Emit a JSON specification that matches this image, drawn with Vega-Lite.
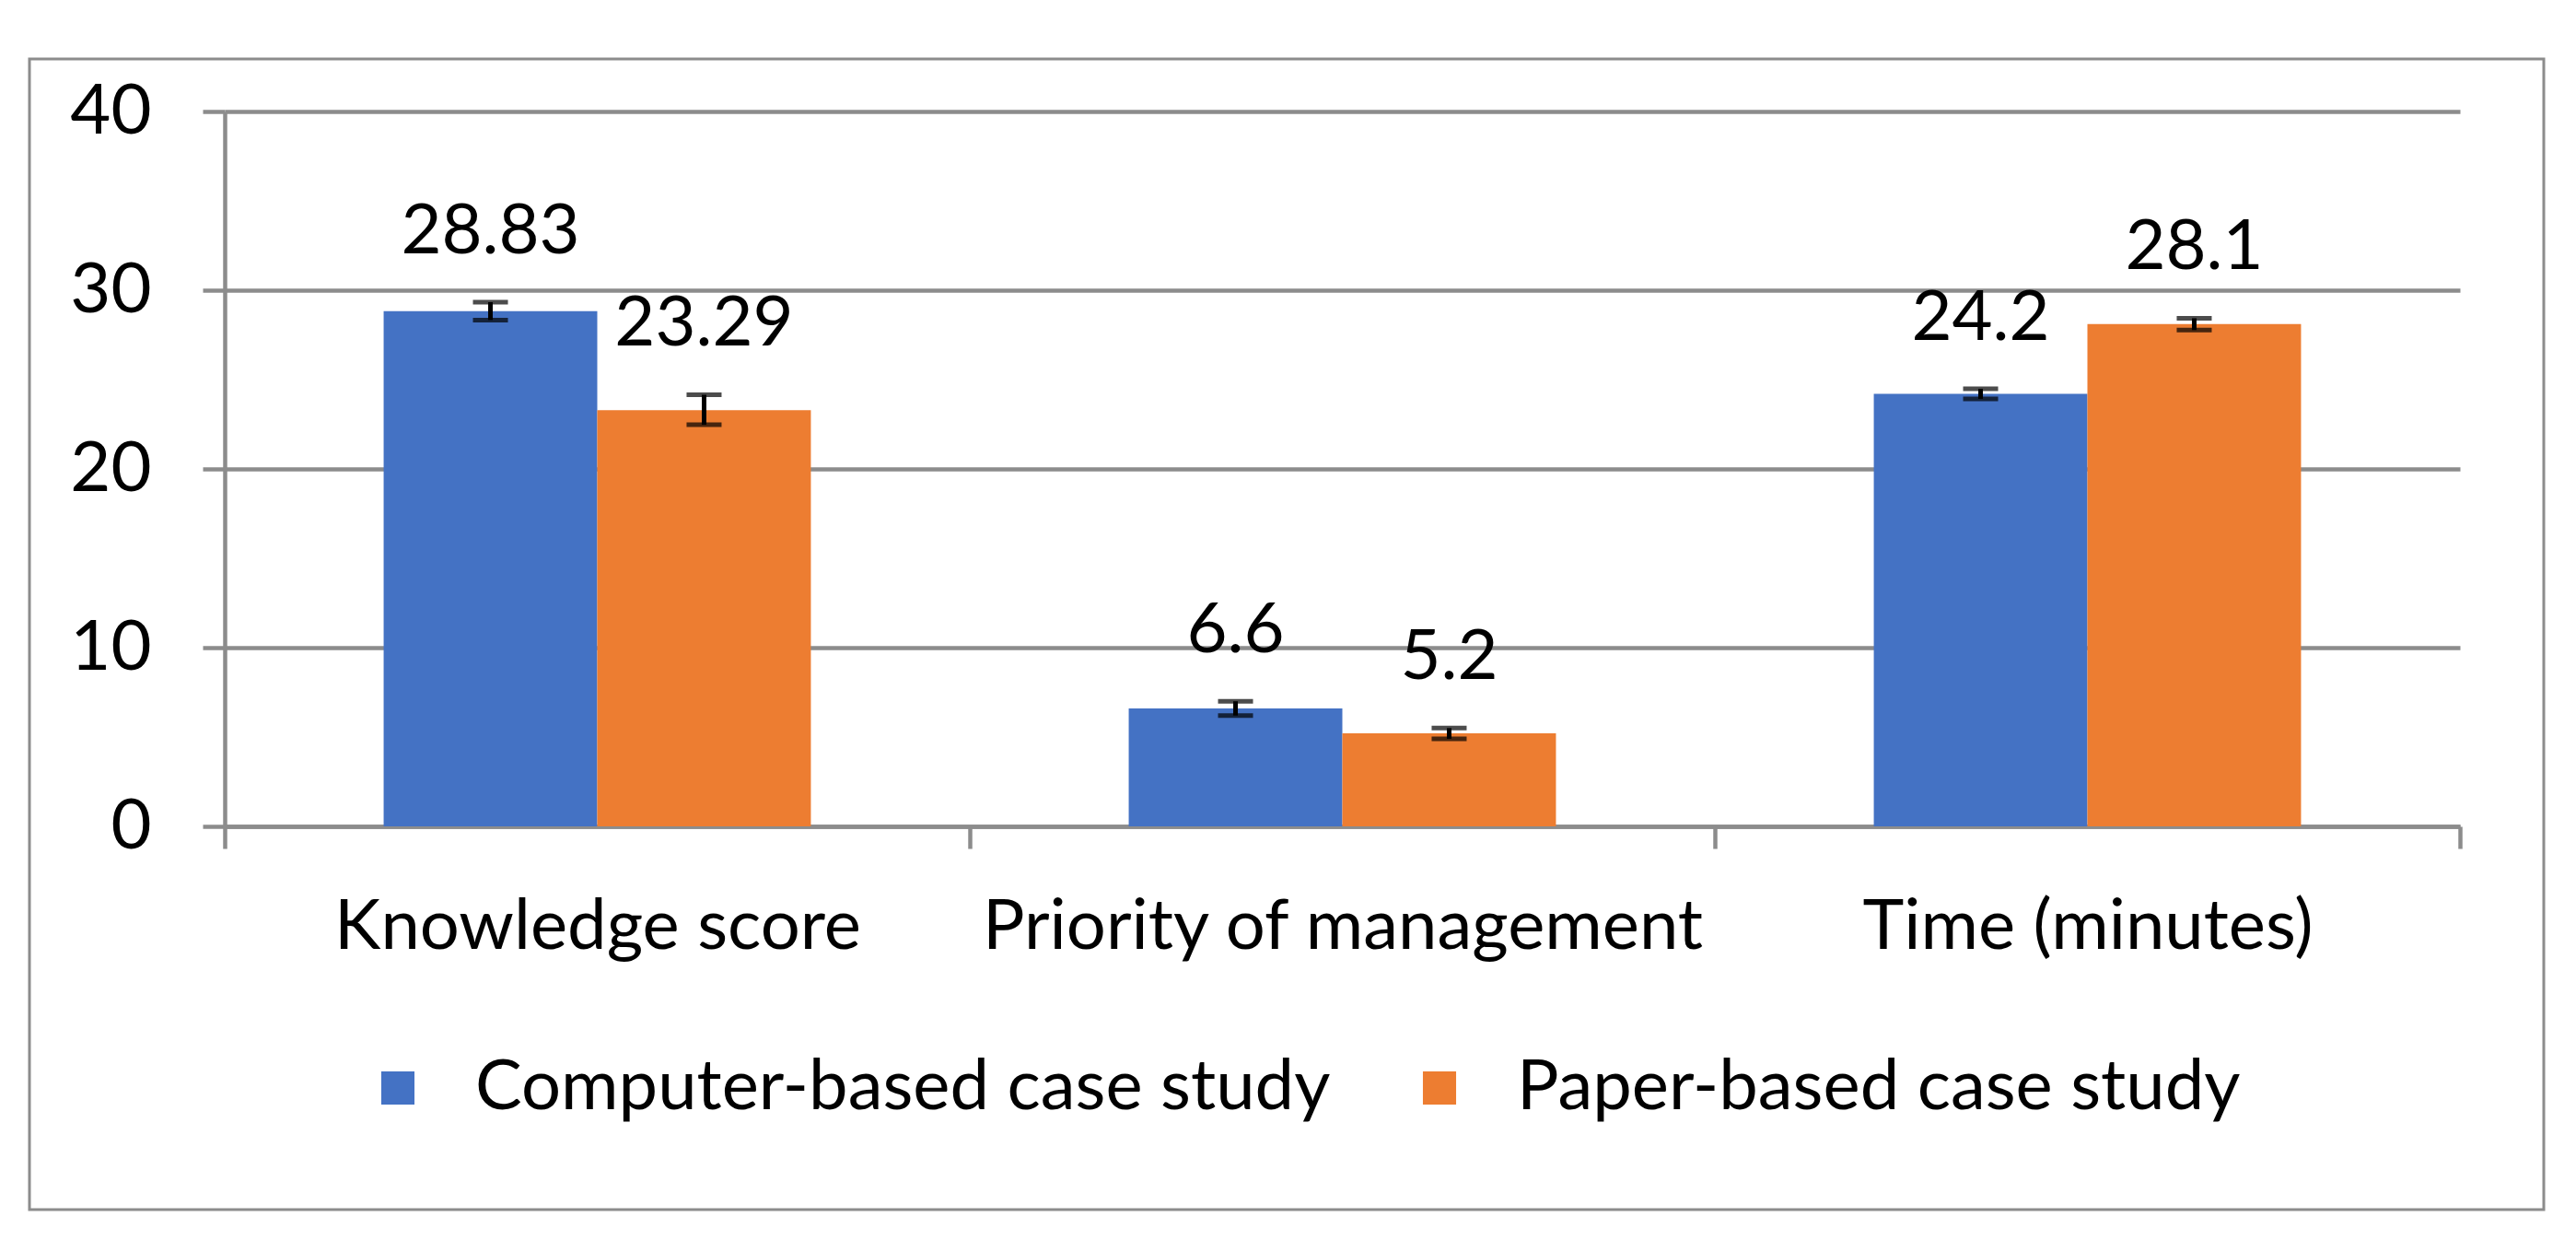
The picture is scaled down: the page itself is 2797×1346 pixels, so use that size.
{
  "$schema": "https://vega.github.io/schema/vega-lite/v6.json",
  "width": 2427,
  "height": 776,
  "autosize": {"type": "none"},
  "padding": {"left": 244, "top": 121, "right": 126, "bottom": 449},
  "background": "white",
  "config": {
    "font": "Lato",
    "view": {"stroke": null},
    "axis": {"labelFont": "Lato", "labelColor": "black", "labelFontSize": 76, "titleFontSize": 76, "labelLimit": 0}
  },
  "data": {
    "values": [
      {"measure": "Knowledge score", "group": "Computer-based case study", "value": 28.83, "lo": 28.33, "hi": 29.33},
      {"measure": "Knowledge score", "group": "Paper-based case study", "value": 23.29, "lo": 22.47, "hi": 24.15},
      {"measure": "Priority of management", "group": "Computer-based case study", "value": 6.6, "lo": 6.2, "hi": 7.0},
      {"measure": "Priority of management", "group": "Paper-based case study", "value": 5.2, "lo": 4.9, "hi": 5.5},
      {"measure": "Time (minutes)", "group": "Computer-based case study", "value": 24.2, "lo": 23.92, "hi": 24.48},
      {"measure": "Time (minutes)", "group": "Paper-based case study", "value": 28.1, "lo": 27.77, "hi": 28.43}
    ]
  },
  "encoding": {
    "x": {
      "field": "measure",
      "type": "nominal",
      "sort": ["Knowledge score", "Priority of management", "Time (minutes)"],
      "scale": {"paddingInner": 0, "paddingOuter": 0},
      "axis": {
        "title": null,
        "labelAngle": 0,
        "labelLimit": 0,
        "tickBand": "extent",
        "domainColor": "#8c8c8c",
        "domainWidth": 4.5,
        "tickColor": "#8c8c8c",
        "tickWidth": 4.5,
        "tickSize": 24,
        "labelPadding": 48,
        "labelFontSize": 76,
        "labelColor": "black",
        "grid": false
      }
    },
    "xOffset": {
      "field": "group",
      "type": "nominal",
      "sort": ["Computer-based case study", "Paper-based case study"],
      "scale": {"paddingInner": 0, "paddingOuter": 0.744}
    }
  },
  "layer": [
    {
      "data": {"values": [{"frame": 1}]},
      "mark": {"type": "rect", "fill": null, "stroke": "#8c8c8c", "strokeWidth": 3, "clip": false},
      "encoding": {
        "x": {"value": -212},
        "x2": {"value": 2518},
        "y": {"value": -57},
        "y2": {"value": 1192},
        "xOffset": null
      }
    },
    {
      "mark": {"type": "bar"},
      "encoding": {
        "y": {
          "field": "value",
          "type": "quantitative",
          "scale": {"domain": [0, 40], "nice": false},
          "axis": {
            "title": null,
            "values": [0, 10, 20, 30, 40],
            "grid": true,
            "gridColor": "#8c8c8c",
            "gridWidth": 4.5,
            "domainColor": "#8c8c8c",
            "domainWidth": 4.5,
            "tickColor": "#8c8c8c",
            "tickWidth": 4.5,
            "tickSize": 24,
            "labelPadding": 56,
            "labelFontSize": 76,
            "labelColor": "black"
          }
        },
        "color": {
          "field": "group",
          "type": "nominal",
          "sort": ["Computer-based case study", "Paper-based case study"],
          "scale": {"domain": ["Computer-based case study", "Paper-based case study"], "range": ["#4472C4", "#ED7D31"]},
          "legend": {
            "title": null,
            "orient": "none",
            "direction": "horizontal",
            "legendX": 150,
            "legendY": 1022,
            "symbolType": "square",
            "symbolSize": 1300,
            "symbolStrokeWidth": 0,
            "labelFontSize": 76,
            "labelFont": "Lato",
            "labelColor": "black",
            "labelOffset": 46,
            "columnPadding": 80,
            "padding": 0,
            "labelLimit": 2000
          }
        }
      }
    },
    {
      "mark": {"type": "rule", "color": "black", "strokeWidth": 5},
      "encoding": {
        "y": {"field": "lo", "type": "quantitative"},
        "y2": {"field": "hi"}
      }
    },
    {
      "mark": {"type": "tick", "orient": "horizontal", "color": "black", "size": 38, "thickness": 5},
      "encoding": {"y": {"field": "lo", "type": "quantitative"}}
    },
    {
      "mark": {"type": "tick", "orient": "horizontal", "color": "black", "size": 38, "thickness": 5},
      "encoding": {"y": {"field": "hi", "type": "quantitative"}}
    },
    {
      "mark": {"type": "text", "baseline": "alphabetic", "align": "center", "dy": -53, "fontSize": 76, "font": "Lato", "color": "black"},
      "encoding": {
        "y": {"field": "hi", "type": "quantitative"},
        "text": {"field": "value", "type": "nominal"}
      }
    }
  ]
}
